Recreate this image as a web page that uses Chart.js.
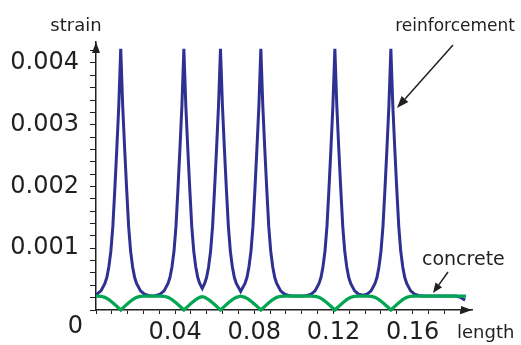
<!DOCTYPE html>
<html>
<head>
<meta charset="utf-8">
<script src="https://cdn.jsdelivr.net/npm/chart.js@4.4.1/dist/chart.umd.min.js"></script>
<style>
  html, body { margin: 0; padding: 0; background: #fff; }
  canvas { display: block; }
</style>
</head>
<body>
<canvas id="strainChart" width="521" height="345"></canvas>
<script>
// reinforcement strain along the bar (x = length, y = strain)
const reinforcementX = [
    0, 0.0025, 0.0045, 0.0055, 0.0065, 0.0075, 0.0085, 0.0095, 0.0105, 0.0115,
    0.0125, 0.0135, 0.0145, 0.0155, 0.0165, 0.0175, 0.0185, 0.0195, 0.0205, 0.0225, 0.0245, 0.0265, 0.0285,
    0.0304, 0.0324, 0.0344, 0.0364, 0.0374, 0.0384, 0.0394, 0.0404, 0.0414, 0.0424, 0.0434,
    0.0444, 0.0454, 0.0464, 0.0474, 0.0484, 0.0494, 0.0504, 0.0514, 0.0524, 0.0537, 0.0549, 0.0559, 0.0569, 0.0579, 0.0589, 0.0599, 0.0609, 0.0619,
    0.0629, 0.0639, 0.0649, 0.0659, 0.0669, 0.0679, 0.0689, 0.0699, 0.0709, 0.0731, 0.0753, 0.0763, 0.0773, 0.0783, 0.0793, 0.0803, 0.0813, 0.0823,
    0.0833, 0.0843, 0.0853, 0.0863, 0.0873, 0.0883, 0.0893, 0.0903, 0.0913, 0.0933, 0.0953, 0.0973, 0.0993,
    0.1047, 0.1067, 0.1087, 0.1107, 0.1127, 0.1137, 0.1147, 0.1157, 0.1167, 0.1177, 0.1187, 0.1197,
    0.1207, 0.1217, 0.1227, 0.1237, 0.1247, 0.1257, 0.1267, 0.1277, 0.1287, 0.1307, 0.1327, 0.1349,
    0.1370, 0.1390, 0.1410, 0.1420, 0.1430, 0.1440, 0.1450, 0.1460, 0.1470, 0.1480,
    0.1490, 0.1500, 0.1510, 0.1520, 0.1530, 0.1540, 0.1550, 0.1560, 0.1570, 0.1590, 0.1610, 0.1630, 0.1650, 0.1750, 0.1820, 0.1845, 0.1865
];
const reinforcementY = [
    0.000245, 0.00031, 0.00043, 0.00053, 0.0007, 0.00095, 0.00135, 0.00195, 0.0026, 0.0033,
    0.00423, 0.0033, 0.0026, 0.00195, 0.00135, 0.00095, 0.0007, 0.00053, 0.00043, 0.00031, 0.000255, 0.000235, 0.000228,
    0.000235, 0.000255, 0.00031, 0.00043, 0.00053, 0.0007, 0.00095, 0.00135, 0.00195, 0.0026, 0.0033,
    0.00423, 0.0033, 0.0026, 0.00195, 0.00135, 0.00095, 0.0007, 0.00053, 0.00043, 0.00035, 0.00043, 0.00053, 0.0007, 0.00095, 0.00135, 0.00195, 0.0026, 0.0033,
    0.00423, 0.0033, 0.0026, 0.00195, 0.00135, 0.00095, 0.0007, 0.00053, 0.00043, 0.0003, 0.00043, 0.00053, 0.0007, 0.00095, 0.00135, 0.00195, 0.0026, 0.0033,
    0.00423, 0.0033, 0.0026, 0.00195, 0.00135, 0.00095, 0.0007, 0.00053, 0.00043, 0.00031, 0.000255, 0.000235, 0.000228,
    0.000228, 0.000235, 0.000255, 0.00031, 0.00043, 0.00053, 0.0007, 0.00095, 0.00135, 0.00195, 0.0026, 0.0033,
    0.00423, 0.0033, 0.0026, 0.00195, 0.00135, 0.00095, 0.0007, 0.00053, 0.00043, 0.00031, 0.000255, 0.000238,
    0.000255, 0.00031, 0.00043, 0.00053, 0.0007, 0.00095, 0.00135, 0.00195, 0.0026, 0.0033,
    0.00423, 0.0033, 0.0026, 0.00195, 0.00135, 0.00095, 0.0007, 0.00053, 0.00043, 0.00031, 0.000255, 0.000235, 0.000228, 0.000225, 0.000225, 0.0002, 0.00016
];

// concrete strain, drops to zero at each crack
const concreteX = [
    0, 0.0025, 0.0045, 0.0065, 0.0085, 0.0105, 0.0125, 0.0145, 0.0165, 0.0185, 0.0205, 0.0225, 0.0245,
    0.0324, 0.0344, 0.0364, 0.0384, 0.0404, 0.0424, 0.0444, 0.0464, 0.0484, 0.0504, 0.0524, 0.0537,
    0.0549, 0.0569, 0.0589, 0.0609, 0.0629, 0.0649, 0.0669, 0.0689, 0.0709, 0.0731,
    0.0753, 0.0773, 0.0793, 0.0813, 0.0833, 0.0853, 0.0873, 0.0893, 0.0913, 0.0933, 0.0953,
    0.1087, 0.1107, 0.1127, 0.1147, 0.1167, 0.1187, 0.1207, 0.1227, 0.1247, 0.1267, 0.1287, 0.1307, 0.1327,
    0.1370, 0.1390, 0.1410, 0.1430, 0.1450, 0.1470, 0.1490, 0.1510, 0.1530, 0.1550, 0.1570, 0.1590, 0.1610, 0.1870
];
const concreteY = [
    0.000225, 0.000222, 0.000205, 0.000168, 0.000118, 0.00006, 0, 0.00006, 0.000118, 0.000168, 0.000205, 0.000222, 0.000225,
    0.000225, 0.000222, 0.000205, 0.000168, 0.000118, 0.00006, 0, 0.00006, 0.000118, 0.000168, 0.000205, 0.000217,
    0.000205, 0.000168, 0.000118, 0.00006, 0, 0.00006, 0.000118, 0.000168, 0.000205, 0.000223,
    0.000205, 0.000168, 0.000118, 0.00006, 0, 0.00006, 0.000118, 0.000168, 0.000205, 0.000222, 0.000225,
    0.000225, 0.000222, 0.000205, 0.000168, 0.000118, 0.00006, 0, 0.00006, 0.000118, 0.000168, 0.000205, 0.000222, 0.000225,
    0.000225, 0.000222, 0.000205, 0.000168, 0.000118, 0.00006, 0, 0.00006, 0.000118, 0.000168, 0.000205, 0.000222, 0.000225, 0.000225
];

const xTickLabels = ['0.04', '0.08', '0.12', '0.16'];
const yTickLabels = ['0.001', '0.002', '0.003', '0.004'];

const FONT = 'DejaVu Sans';
const INK = '#231f20';

function pairs(xs, ys) {
    return xs.map((x, i) => ({ x: x, y: ys[i] }));
}

function labelFor(value, list) {
    const s = value.toFixed(3).replace(/0+$/, '').replace(/\.$/, '');
    const hit = list.find(l => Math.abs(parseFloat(l) - value) < 1e-7);
    return hit || '';
}

function arrow(ctx, x1, y1, x2, y2, head, half) {
    const a = Math.atan2(y2 - y1, x2 - x1);
    const bx = x2 - head * Math.cos(a), by = y2 - head * Math.sin(a);
    ctx.beginPath();
    ctx.moveTo(x1, y1);
    ctx.lineTo(bx, by);
    ctx.stroke();
    ctx.beginPath();
    ctx.moveTo(x2, y2);
    ctx.lineTo(bx + half * Math.sin(a), by - half * Math.cos(a));
    ctx.lineTo(bx - half * Math.sin(a), by + half * Math.cos(a));
    ctx.closePath();
    ctx.fill();
}

const extras = {
    id: 'extras',
    afterDraw(chart) {
        const ctx = chart.ctx;
        const area = chart.chartArea;
        ctx.save();
        ctx.fillStyle = INK;
        ctx.strokeStyle = INK;

        // axis arrow heads
        ctx.beginPath();
        ctx.moveTo(area.left, area.top);
        ctx.lineTo(area.left - 4, area.top + 11);
        ctx.lineTo(area.left + 4, area.top + 11);
        ctx.closePath();
        ctx.fill();
        ctx.beginPath();
        ctx.moveTo(area.right, area.bottom);
        ctx.lineTo(area.right - 11, area.bottom - 4);
        ctx.lineTo(area.right - 11, area.bottom + 4);
        ctx.closePath();
        ctx.fill();

        // texts
        ctx.textBaseline = 'alphabetic';
        ctx.font = '18px "' + FONT + '"';
        ctx.textAlign = 'center';
        ctx.fillText('strain', 76, 31);
        ctx.textAlign = 'left';
        ctx.fillText('length', 457, 338);
        ctx.font = '17px "' + FONT + '"';
        ctx.textAlign = 'right';
        ctx.fillText('reinforcement', 515, 31);
        ctx.font = '19px "' + FONT + '"';
        ctx.textAlign = 'left';
        ctx.fillText('concrete', 422, 265);
        ctx.font = '24px "' + FONT + '"';
        ctx.textAlign = 'right';
        ctx.fillText('0', 83, 333);

        // pointer arrows
        ctx.lineWidth = 1.5;
        arrow(ctx, 453, 45, 397, 108, 12, 4.5);
        arrow(ctx, 448, 272, 433, 293, 10, 4);
        ctx.restore();
    }
};

new Chart(document.getElementById('strainChart'), {
    type: 'line',
    data: {
        datasets: [{
            label: 'concrete',
            data: pairs(concreteX, concreteY),
            borderColor: '#00a651',
            borderWidth: 3.2,
            pointRadius: 0,
            tension: 0,
            clip: false,
            order: 0
        }, {
            label: 'reinforcement',
            data: pairs(reinforcementX, reinforcementY),
            borderColor: '#2e3192',
            borderWidth: 3,
            pointRadius: 0,
            tension: 0,
            clip: false,
            order: 1
        }]
    },
    options: {
        responsive: false,
        animation: false,
        events: [],
        layout: { padding: { left: 0, top: 42, right: 49, bottom: 0 } },
        plugins: { legend: { display: false }, tooltip: { enabled: false } },
        scales: {
            x: {
                type: 'linear',
                min: 0,
                max: 0.19,
                afterFit: function (scale) { scale.height = 35; },
                grid: { drawOnChartArea: false, tickLength: 4, color: INK, lineWidth: 1 },
                border: { color: INK, width: 1.5 },
                ticks: {
                    stepSize: 0.008,
                    includeBounds: false,
                    autoSkip: false,
                    maxRotation: 0,
                    padding: 4,
                    color: INK,
                    font: { family: FONT, size: 24 },
                    callback: function (value) { return labelFor(value, xTickLabels); }
                }
            },
            y: {
                type: 'linear',
                min: 0,
                max: 0.00434,
                afterFit: function (scale) { scale.width = 96; },
                grid: { drawOnChartArea: false, tickLength: 6, color: INK, lineWidth: 1 },
                border: { color: INK, width: 1.5 },
                ticks: {
                    stepSize: 0.0002,
                    includeBounds: false,
                    autoSkip: false,
                    padding: 11,
                    color: INK,
                    font: { family: FONT, size: 24 },
                    callback: function (value) { return labelFor(value, yTickLabels); }
                }
            }
        }
    },
    plugins: [extras]
});
</script>
</body>
</html>
